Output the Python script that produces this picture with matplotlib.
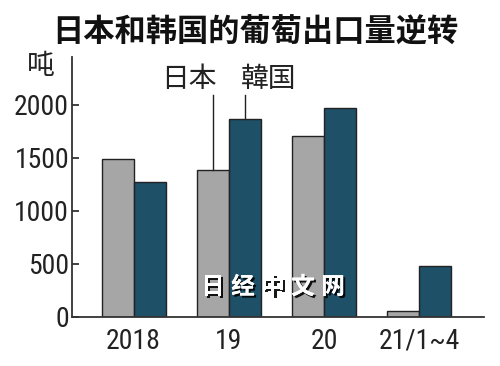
import matplotlib
matplotlib.use("Agg")
import matplotlib.pyplot as plt
import matplotlib.patheffects as pe
from matplotlib import font_manager as fm
import numpy as np

categories = ["2018", "19", "20", "21/1~4"]
japan = [1490, 1386, 1710, 54]
korea = [1273, 1865, 1969, 482]
yticks = [0, 500, 1000, 1500, 2000]

names = {f.name for f in fm.fontManager.ttflist}
num_font = None
for cand in ["Liberation Sans Narrow", "DejaVu Sans Condensed", "Roboto Condensed", "Open Sans Condensed"]:
    if cand in names:
        num_font = cand
        break
cjk = "Noto Sans CJK JP"
if num_font is None:
    num_font = "Liberation Sans"

plt.rcParams['font.family'] = [cjk, 'DejaVu Sans']

fig = plt.figure(figsize=(5, 3.66), dpi=100)
ax = fig.add_axes([0.144, 0.1347, 0.824, 0.7095])

x = np.arange(len(categories))
w = 0.336
gray = "#a6a6a6"
teal = "#1e5068"
ax.bar(x - w/2, japan, w, color=gray, edgecolor="#222222", linewidth=1.0)
ax.bar(x + w/2, korea, w, color=teal, edgecolor="#222222", linewidth=1.0)

ax.set_xlim(-0.648, 3.68)
ax.set_ylim(0, 2453)
ax.set_yticks(yticks)
ax.set_yticklabels([str(t) for t in yticks], family=num_font, fontsize=20)
ax.set_xticks(x)
ax.set_xticklabels(categories, family=num_font, fontsize=20)
ax.tick_params(axis='y', direction='in', length=5, width=1.2, pad=2, colors="#222222")
ax.tick_params(axis='x', length=0, pad=8, colors="#222222")
for s in ["top", "right"]:
    ax.spines[s].set_visible(False)
for s in ["left", "bottom"]:
    ax.spines[s].set_linewidth(1.3)
    ax.spines[s].set_color("#333333")

# leader labels
ax.text(1 - w/2 + 0.04, 2250, "日本", ha="right", va="center", fontsize=20, color="#222222")
ax.text(1 + w/2 - 0.04, 2250, "韓国", ha="left", va="center", fontsize=20, color="#222222")
ax.plot([1 - w/2, 1 - w/2], [japan[1], 2090], color="#222222", lw=1.0)
ax.plot([1 + w/2, 1 + w/2], [korea[1], 2090], color="#222222", lw=1.0)

ax.text(-0.98, 2370, "吨", ha="center", va="center", fontsize=20, color="#222222", clip_on=False)

fig.text(0.51, 0.91, "日本和韩国的葡萄出口量逆转", ha="center", va="center",
         fontsize=22.5, fontweight="bold", color="#111111")

wm = "日经中文网"
for i, ch in enumerate(wm):
    fig.text((213 + i * 30) / 500, 0.216, ch, ha="center", va="center", fontsize=17,
             fontweight="bold", color="white",
             path_effects=[pe.withSimplePatchShadow(offset=(1.5, -1.5), shadow_rgbFace="black", alpha=0.9), pe.Normal()])

fig.savefig("out.png", dpi=100)
